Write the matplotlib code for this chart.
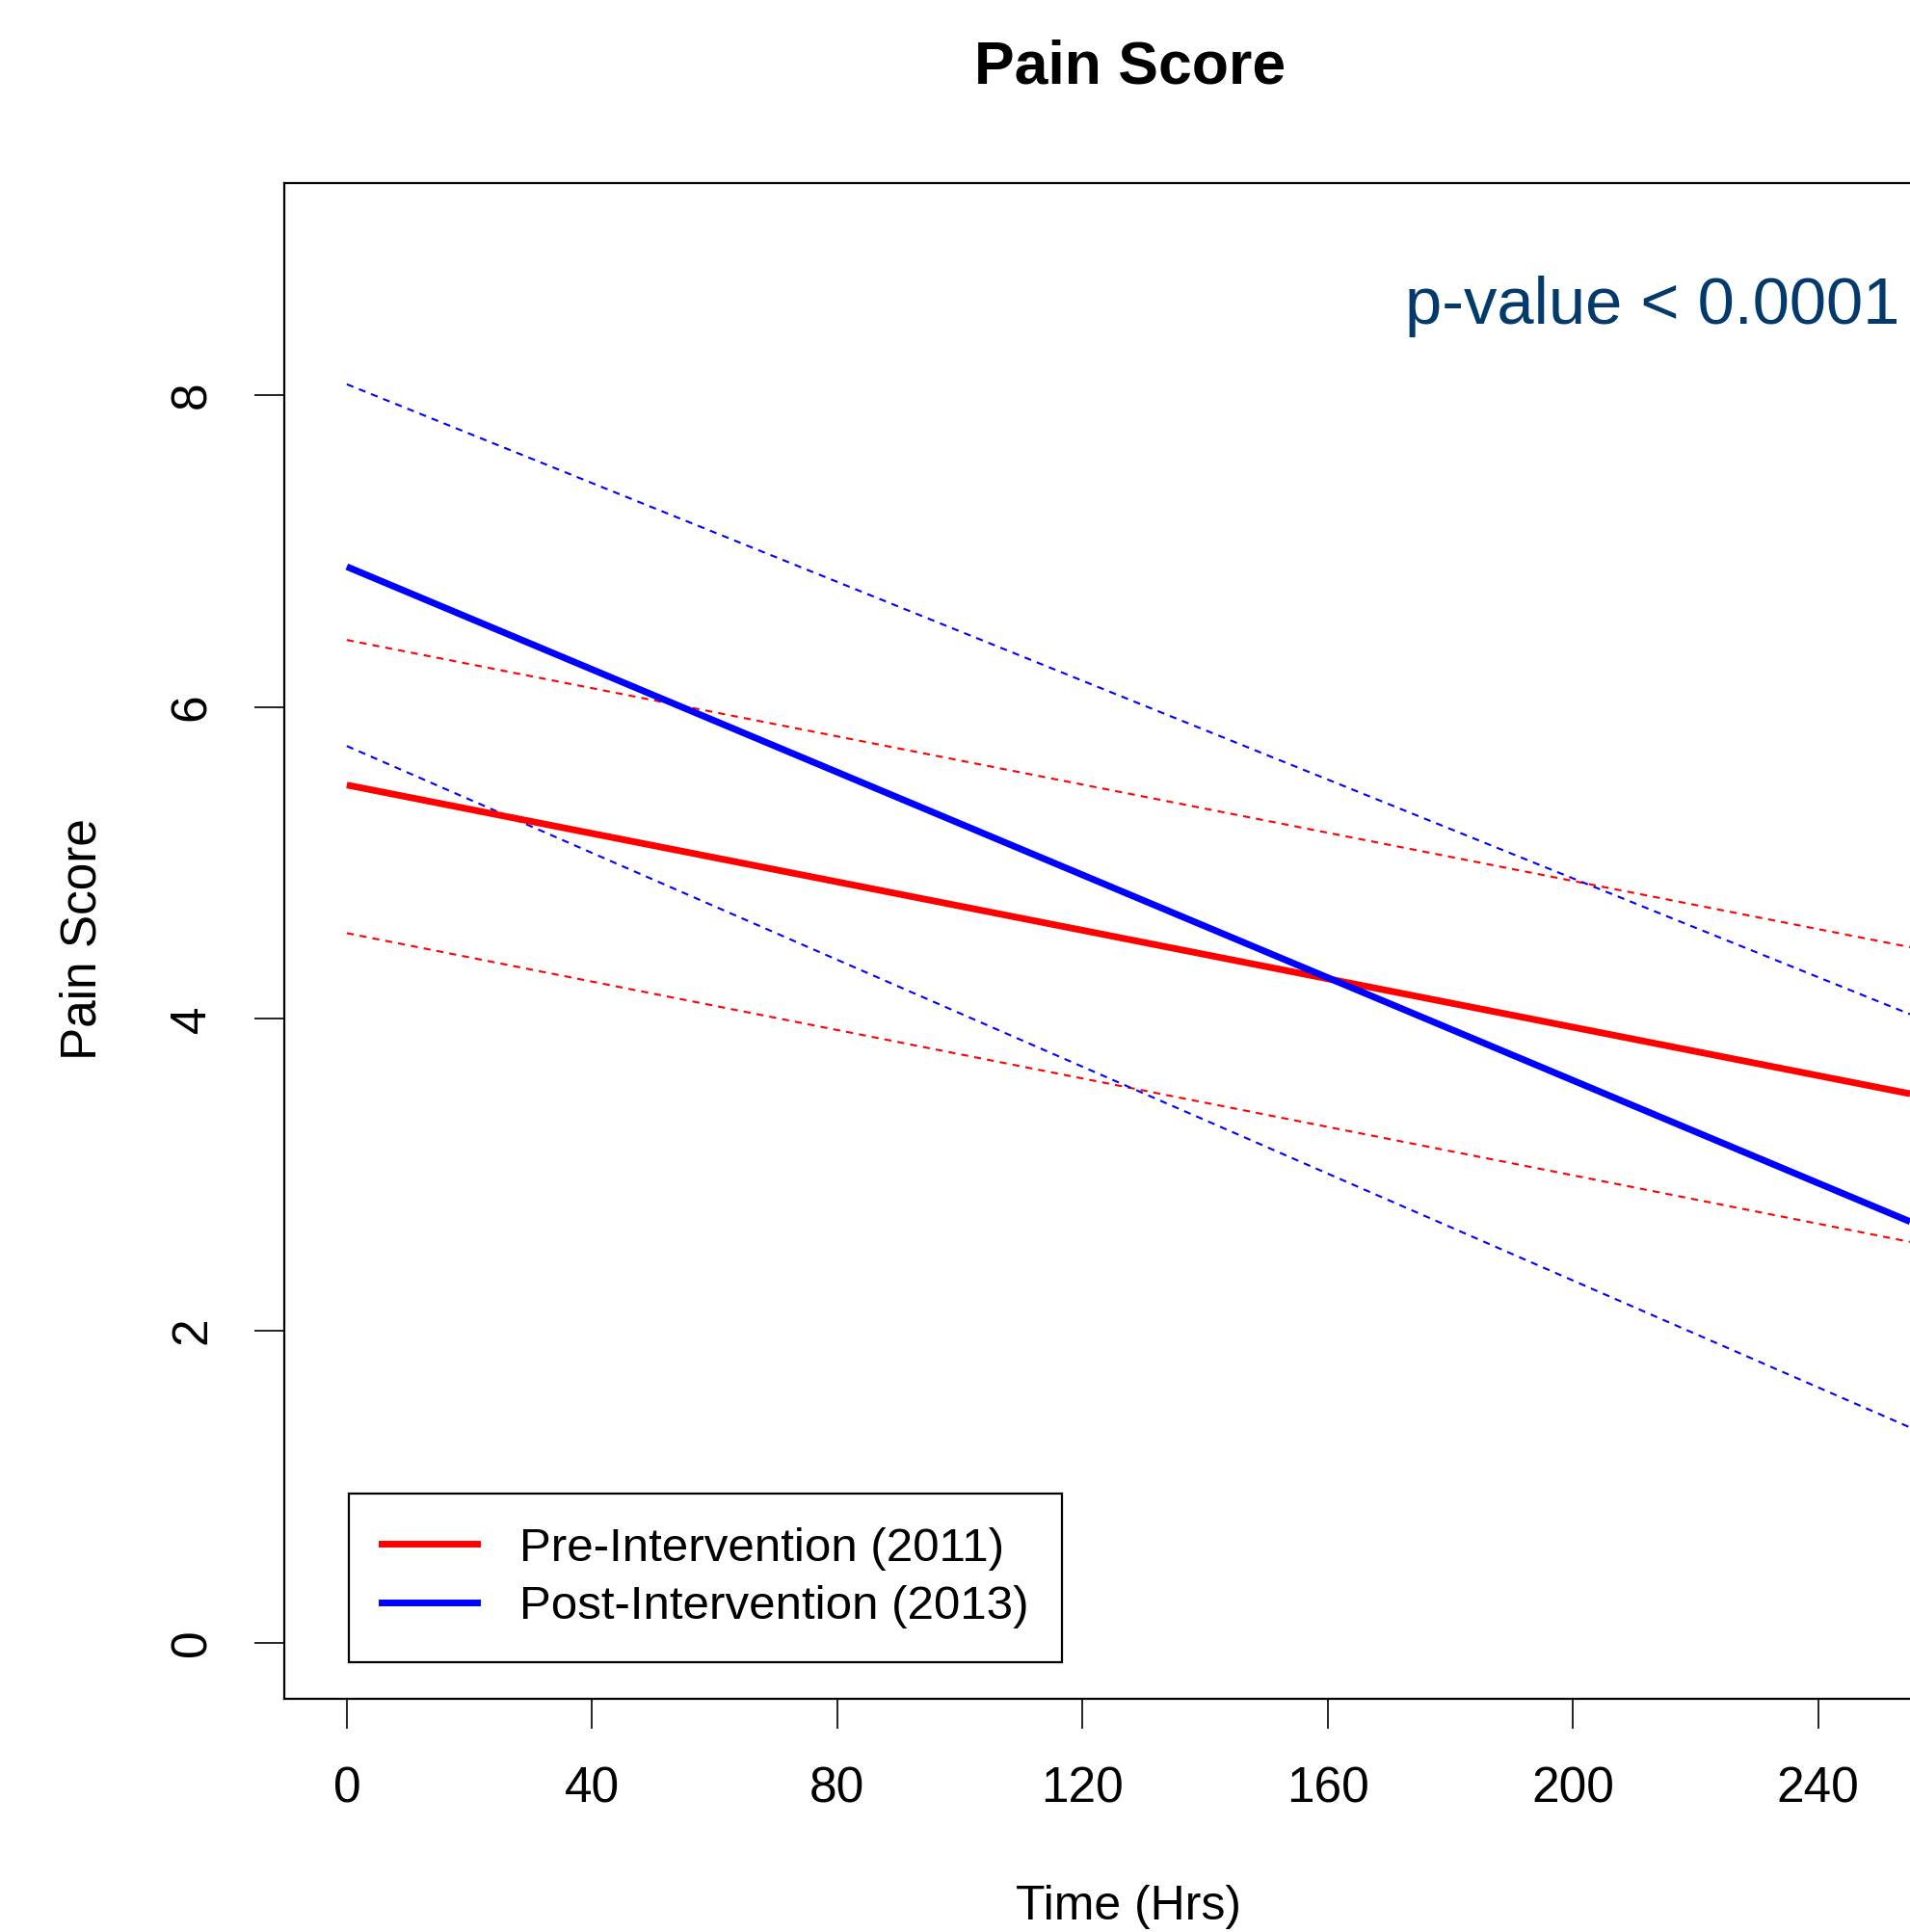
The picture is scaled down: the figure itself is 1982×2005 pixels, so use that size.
import matplotlib
matplotlib.use("Agg")
import matplotlib.pyplot as plt
from matplotlib.lines import Line2D

# ---- data ----
time_hrs = [0, 255]
pre_fit = [5.50, 3.52]
pre_upper = [6.43, 4.46]
pre_lower = [4.55, 2.57]
post_fit = [6.90, 2.70]
post_upper = [8.07, 4.03]
post_lower = [5.75, 1.38]

x_ticks = [0, 40, 80, 120, 160, 200, 240]
y_ticks = [0, 2, 4, 6, 8]
legend_labels = ["Pre-Intervention (2011)", "Post-Intervention (2013)"]
title = "Pain Score"
x_label = "Time (Hrs)"
y_label = "Pain Score"
annotation = "p-value < 0.0001"

FONT = ["Liberation Sans", "DejaVu Sans"]
plt.rcParams["font.family"] = FONT

W, H = 1983, 2005
fig = plt.figure(figsize=(W / 100, H / 100), dpi=100)

# axes box in pixels: left 295, right 2047 (beyond image), top 190, bottom 1763
ax = fig.add_axes([295 / W, 1 - 1763 / H, (2047 - 295) / W, (1763 - 190) / H])

red = "#FF0000"
blue = "#0000FF"
dot = (0, (3.5, 3))
thin = 1.5
thick = 5.0

ax.plot(time_hrs, pre_upper, color=red, lw=thin, linestyle=dot)
ax.plot(time_hrs, pre_lower, color=red, lw=thin, linestyle=dot)
ax.plot(time_hrs, post_upper, color=blue, lw=thin, linestyle=dot)
ax.plot(time_hrs, post_lower, color=blue, lw=thin, linestyle=dot)
ax.plot(time_hrs, pre_fit, color=red, lw=thick, solid_capstyle="butt")
ax.plot(time_hrs, post_fit, color=blue, lw=thick, solid_capstyle="butt")

ax.set_xlim(-10.2, 265.2)
ax.set_ylim(-0.36, 9.36)
ax.set_xticks(x_ticks)
ax.set_yticks(y_ticks)
ax.set_xticklabels([str(v) for v in x_ticks])
ax.set_yticklabels([str(v) for v in y_ticks], rotation=90, va="center")

for s in ax.spines.values():
    s.set_linewidth(1.6)
    s.set_color("black")
ax.tick_params(axis="both", length=22, width=1.2, color="black",
               labelsize=37, labelcolor="black")
ax.tick_params(axis="x", pad=28)
ax.tick_params(axis="y", pad=29)

handles = [Line2D([0], [0], color=red, lw=thick),
           Line2D([0], [0], color=blue, lw=thick)]
leg = ax.legend(handles, legend_labels, loc="lower left",
                bbox_to_anchor=(0.0382, 0.0242), borderaxespad=0,
                fontsize=35.5, frameon=True, fancybox=False,
                edgecolor="black", framealpha=1,
                handlelength=2.0, handletextpad=0.9,
                borderpad=0.7, labelspacing=0.32)
leg.get_frame().set_linewidth(1.6)

fig.text(1173 / W, 1 - 70 / H, title, ha="center", va="center",
         fontsize=45, fontweight="bold", color="black")
fig.text(1171 / W, 1 - 1979 / H, x_label, ha="center", va="center",
         fontsize=36, color="black")
fig.text(86 / W, 1 - 975 / H, y_label, ha="center", va="center",
         rotation=90, fontsize=37, color="black")
fig.text(1971 / W, 1 - 336 / H, annotation, ha="right", va="baseline",
         fontsize=49.5, color="#033A6B")

fig.savefig("out.png", dpi=100)
